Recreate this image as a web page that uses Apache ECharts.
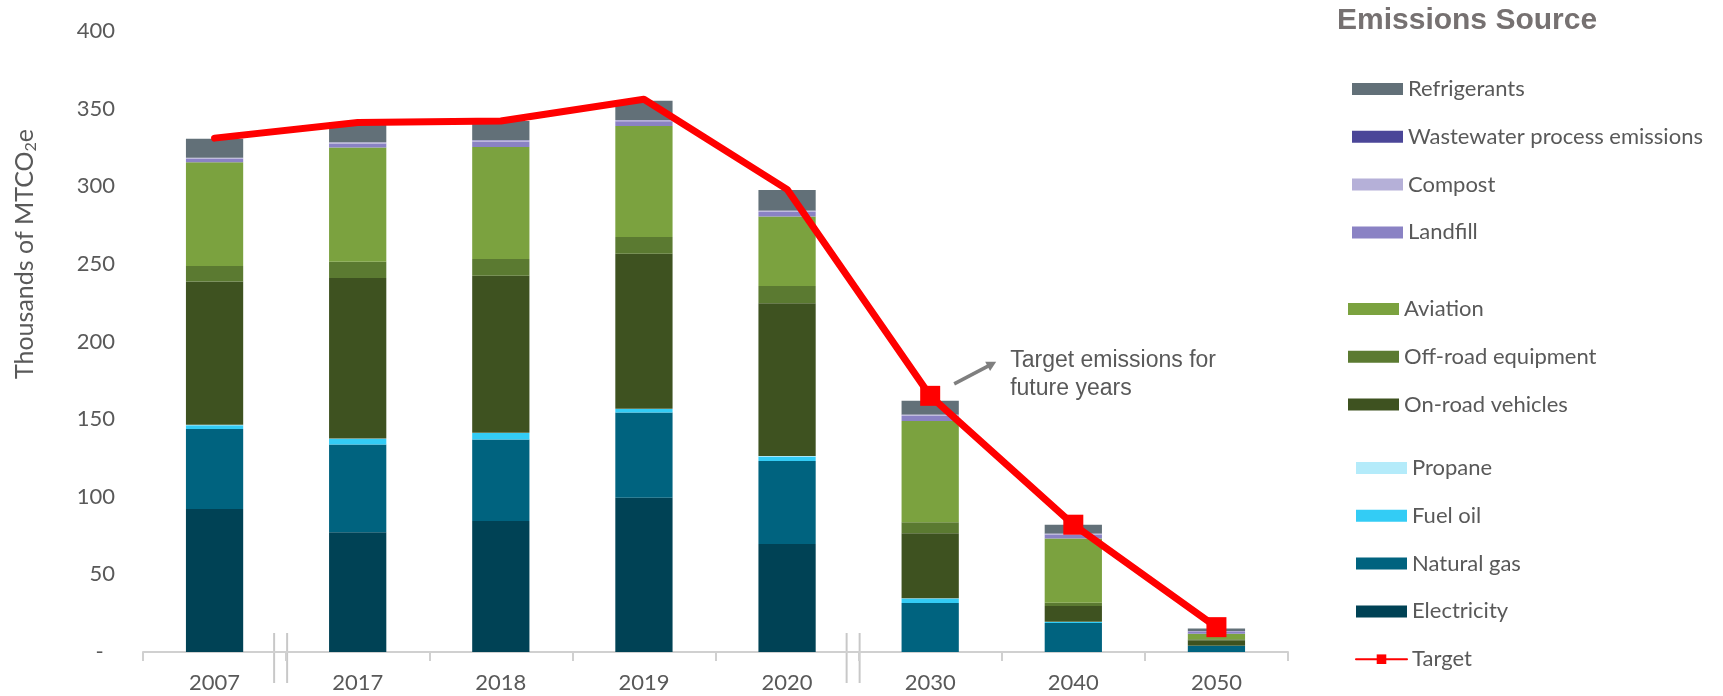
<!DOCTYPE html>
<html>
<head>
<meta charset="utf-8">
<script src="https://cdn.jsdelivr.net/npm/echarts@6/dist/echarts.min.js"></script>
<style>
  html, body { margin: 0; padding: 0; background: #ffffff; }
  #chart { width: 1723px; height: 696px; }
</style>
</head>
<body>
<div id="chart"></div>
<script>
// Inventory years and emissions by source, thousands of MTCO2e
const categories   = ['2007', '2017', '2018', '2019', '2020', '2030', '2040', '2050'];
const electricity  = [92.1, 77.1, 84.4, 99.4, 69.6, 0, 0, 0];
const naturalGas   = [51.6, 56.6, 52.4, 54.8, 53.4, 31.6, 18.6, 3.8];
const fuelOil      = [2.4, 3.7, 4.3, 2.3, 3.0, 2.8, 0.8, 0.2];
const propane      = [0.2, 0.2, 0.2, 0.2, 0.2, 0.2, 0.1, 0.1];
const onRoad       = [92.4, 103.3, 101.1, 99.9, 98.4, 41.9, 10.1, 3.5];
const offRoad      = [10.0, 10.5, 10.7, 10.7, 11.2, 7.1, 2.2, 0.6];
const aviation     = [66.7, 73.5, 72.2, 71.5, 44.7, 65.2, 41.3, 3.6];
const landfill     = [2.3, 2.7, 3.6, 3.1, 3.0, 3.3, 2.6, 1.2];
const compost      = [0.6, 0.7, 0.8, 0.7, 0.7, 0.7, 0.5, 0.4];
const wastewater   = [0.1, 0.1, 0.1, 0.1, 0.1, 0.1, 0.1, 0.1];
const refrigerants = [12.2, 13.0, 12.2, 12.4, 13.3, 9.0, 5.7, 1.7];
const target       = [331, 341, 342, 356, 298, 165, 82, 16];
const yTicks       = [0, 50, 100, 150, 200, 250, 300, 350, 400];
const firstFutureIndex = 5; // 2030 onward: projected targets get markers

const LABEL_FONT = 'Lato, "Noto Sans", sans-serif';
const SANS_FONT = '"Liberation Sans", Arial, sans-serif';
const TEXT_GRAY = '#595959';

const stackDefs = [
  ['Electricity', electricity, '#004255'],
  ['Natural gas', naturalGas, '#00637f'],
  ['Fuel oil', fuelOil, '#33ccf5'],
  ['Propane', propane, '#b4ebfa'],
  ['On-road vehicles', onRoad, '#3e5220'],
  ['Off-road equipment', offRoad, '#5b7a31'],
  ['Aviation', aviation, '#7ba23f'],
  ['Landfill', landfill, '#8a82c4'],
  ['Compost', compost, '#b5b0d8'],
  ['Wastewater process emissions', wastewater, '#4b4698'],
  ['Refrigerants', refrigerants, '#627078']
];

const barSeries = stackDefs.map(([name, values, color]) => ({
  name: name,
  type: 'bar',
  stack: 'emissions',
  data: values,
  barWidth: '40%',
  itemStyle: { color: color },
  emphasis: { disabled: true },
  z: 2
}));

const targetSeries = {
  name: 'Target',
  type: 'line',
  data: target.map((v, i) => i >= firstFutureIndex ? v : { value: v, symbol: 'none' }),
  symbol: 'rect',
  symbolSize: 20,
  lineStyle: { color: '#ff0000', width: 7, cap: 'round', join: 'round' },
  itemStyle: { color: '#ff0000' },
  emphasis: { disabled: true },
  z: 5
};

const legendText = { fontFamily: LABEL_FONT, fontSize: 22, color: TEXT_GRAY };
function legendBlock(names, left, top) {
  return {
    orient: 'vertical',
    left: left,
    top: top,
    itemWidth: 51,
    itemHeight: 12,
    itemGap: 25.8,
    padding: 0,
    selectedMode: false,
    textStyle: legendText,
    data: names.map(n => n === 'Target' ? { name: n } : { name: n, icon: 'rect' })
  };
}

const chart = echarts.init(document.getElementById('chart'), null, { renderer: 'canvas' });

chart.setOption({
  animation: false,
  backgroundColor: '#ffffff',
  title: {
    text: 'Emissions Source',
    left: 1337,
    top: 6,
    padding: 0,
    textStyle: { fontFamily: SANS_FONT, fontWeight: 'bold', fontSize: 30, color: '#767171' }
  },
  legend: [
    legendBlock(['Refrigerants', 'Wastewater process emissions', 'Compost', 'Landfill'], 1352, 78),
    legendBlock(['Aviation', 'Off-road equipment', 'On-road vehicles'], 1348, 298),
    legendBlock(['Propane', 'Fuel oil', 'Natural gas', 'Electricity', 'Target'], 1355, 457)
  ],
  grid: { left: 143, right: 435, top: 31, bottom: 44, containLabel: false },
  xAxis: {
    type: 'category',
    data: categories,
    axisLine: { lineStyle: { color: '#d0d0d0', width: 2 } },
    axisTick: { show: true, length: 9, lineStyle: { color: '#d0d0d0', width: 2 } },
    axisLabel: { fontFamily: LABEL_FONT, fontSize: 22, color: TEXT_GRAY, margin: 20 }
  },
  yAxis: {
    type: 'value',
    min: yTicks[0],
    max: yTicks[yTicks.length - 1],
    interval: yTicks[1] - yTicks[0],
    splitLine: { show: false },
    axisLine: { show: false },
    axisTick: { show: false },
    axisLabel: {
      fontFamily: LABEL_FONT, fontSize: 22, color: TEXT_GRAY, margin: 28,
      formatter: v => v === 0 ? '-  ' : String(v)
    }
  },
  series: barSeries.concat([targetSeries])
});

// Overlay: axis title, break marks on the category axis, and the target note
function drawOverlay() {
  const toPx = (i, v) => chart.convertToPixel({ xAxisIndex: 0, yAxisIndex: 0 }, [i, v]);
  const axisY = toPx(0, 0)[1];
  const elements = [];

  elements.push({
    type: 'text',
    x: 25, y: 254,
    rotation: Math.PI / 2,
    style: {
      text: 'Thousands of MTCO{sub|2}e',
      fontFamily: LABEL_FONT,
      fontSize: 25,
      fill: TEXT_GRAY,
      align: 'center',
      verticalAlign: 'middle',
      rich: { sub: { fontFamily: LABEL_FONT, fontSize: 16, fill: TEXT_GRAY, padding: [11, 0, 0, 0] } }
    }
  });

  // Double bars where the year sequence jumps
  [[0, 1], [4, 5]].forEach(([a, b]) => {
    const mid = (toPx(a, 0)[0] + toPx(b, 0)[0]) / 2;
    [-12, 1].forEach(dx => {
      elements.push({
        type: 'line',
        shape: { x1: mid + dx, y1: axisY - 19, x2: mid + dx, y2: axisY + 31 },
        style: { stroke: '#c8c8c8', lineWidth: 2 }
      });
    });
  });

  const p = toPx(firstFutureIndex, target[firstFutureIndex]);
  const ax1 = p[0] + 24, ay1 = p[1] - 12;
  const ax2 = p[0] + 66, ay2 = p[1] - 34;
  const ang = Math.atan2(ay2 - ay1, ax2 - ax1);
  const head = 11, spread = 0.5;
  elements.push({
    type: 'line',
    shape: { x1: ax1, y1: ay1, x2: ax2 - Math.cos(ang) * 6, y2: ay2 - Math.sin(ang) * 6 },
    style: { stroke: '#7f7f7f', lineWidth: 3.5 }
  });
  elements.push({
    type: 'polygon',
    shape: {
      points: [
        [ax2, ay2],
        [ax2 - head * Math.cos(ang - spread), ay2 - head * Math.sin(ang - spread)],
        [ax2 - head * Math.cos(ang + spread), ay2 - head * Math.sin(ang + spread)]
      ]
    },
    style: { fill: '#7f7f7f' }
  });
  elements.push({
    type: 'text',
    x: p[0] + 80, y: p[1] - 49,
    style: {
      text: 'Target emissions for\nfuture years',
      fontFamily: SANS_FONT,
      fontSize: 23,
      lineHeight: 28,
      fill: TEXT_GRAY,
      align: 'left',
      verticalAlign: 'top'
    }
  });

  chart.setOption({ graphic: { elements: elements } });
}
drawOverlay();
</script>
</body>
</html>
